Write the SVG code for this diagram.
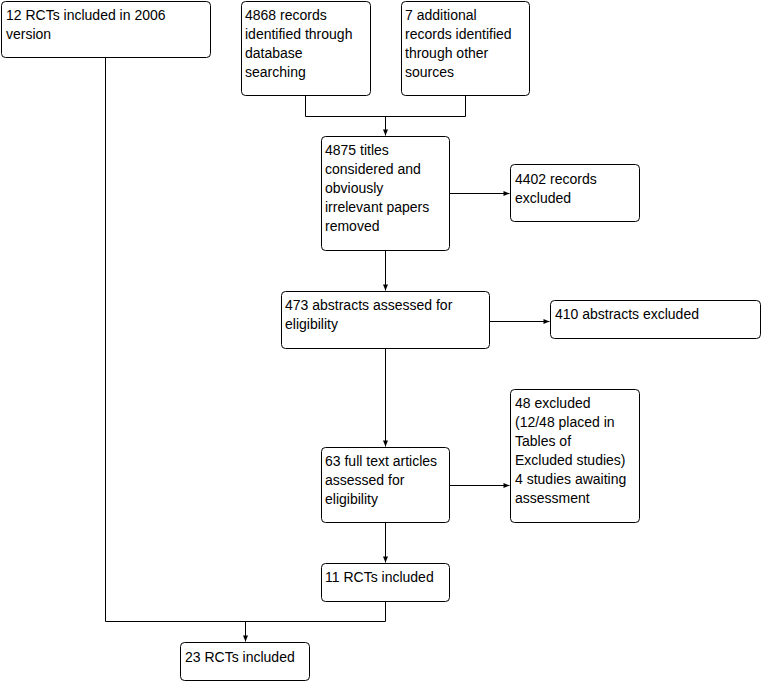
<svg xmlns="http://www.w3.org/2000/svg" width="762" height="681" viewBox="0 0 762 681">
<style>
rect{fill:#fff;stroke:#000;stroke-width:1}
text{font-family:"Liberation Sans",Arial,sans-serif;font-size:14px;fill:#000}
.c{fill:none;stroke:#000;stroke-width:1}
</style>
<defs>
<marker id="a" markerWidth="8" markerHeight="8" refX="7" refY="4" orient="auto" markerUnits="userSpaceOnUse">
<path d="M1,1.5 L7,4 L1,6.5 Z" fill="#000"/>
</marker>
</defs>
<rect x="0" y="0" width="762" height="681" style="fill:#fff;stroke:none"/>
<g id="connectors">
<path class="c" d="M305.5,95 V116.5 H465.5 V95"/>
<path class="c" d="M385.5,116 V135.5" marker-end="url(#a)"/>
<path class="c" d="M449,193.5 H509.5" marker-end="url(#a)"/>
<path class="c" d="M385.5,250 V290.5" marker-end="url(#a)"/>
<path class="c" d="M489,321.5 H549.5" marker-end="url(#a)"/>
<path class="c" d="M385.5,348 V446.5" marker-end="url(#a)"/>
<path class="c" d="M449,485.5 H509.5" marker-end="url(#a)"/>
<path class="c" d="M385.5,522 V562.5" marker-end="url(#a)"/>
<path class="c" d="M385.5,601 V621.5 H105.5 V57"/>
<path class="c" d="M245.5,621 V641.5" marker-end="url(#a)"/>
</g>
<g id="n1"><rect x="1.5" y="1.5" width="209" height="56" rx="4"/><text x="6" y="20">12 RCTs included in 2006</text><text x="6" y="39">version</text></g>
<g id="n2"><rect x="241.5" y="1.5" width="129" height="94" rx="4"/><text x="245" y="20">4868 records</text><text x="245" y="39">identified through</text><text x="245" y="58">database</text><text x="245" y="77">searching</text></g>
<g id="n3"><rect x="401.5" y="1.5" width="128" height="94" rx="4"/><text x="405" y="20">7 additional</text><text x="405" y="39">records identified</text><text x="405" y="58">through other</text><text x="405" y="77">sources</text></g>
<g id="n4"><rect x="321.5" y="136.5" width="128" height="114" rx="4"/><text x="325" y="155">4875 titles</text><text x="325" y="174">considered and</text><text x="325" y="193">obviously</text><text x="325" y="212">irrelevant papers</text><text x="325" y="231">removed</text></g>
<g id="n5"><rect x="510.5" y="164.5" width="129" height="57" rx="4"/><text x="515" y="184">4402 records</text><text x="515" y="203">excluded</text></g>
<g id="n6"><rect x="281.5" y="291.5" width="208" height="57" rx="4"/><text x="285" y="310">473 abstracts assessed for</text><text x="285" y="329">eligibility</text></g>
<g id="n7"><rect x="550.5" y="300.5" width="210" height="38" rx="4"/><text x="555" y="319">410 abstracts excluded</text></g>
<g id="n8"><rect x="321.5" y="447.5" width="128" height="75" rx="4"/><text x="325" y="466">63 full text articles</text><text x="325" y="485">assessed for</text><text x="325" y="504">eligibility</text></g>
<g id="n9"><rect x="510.5" y="389.5" width="129" height="133" rx="4"/><text x="515" y="408">48 excluded</text><text x="515" y="427">(12/48 placed in</text><text x="515" y="446">Tables of</text><text x="515" y="465">Excluded studies)</text><text x="515" y="484">4 studies awaiting</text><text x="515" y="503">assessment</text></g>
<g id="n10"><rect x="321.5" y="563.5" width="128" height="38" rx="4"/><text x="325" y="582">11 RCTs included</text></g>
<g id="n11"><rect x="180.5" y="642.5" width="129" height="38" rx="4"/><text x="185" y="662">23 RCTs included</text></g>
</svg>
